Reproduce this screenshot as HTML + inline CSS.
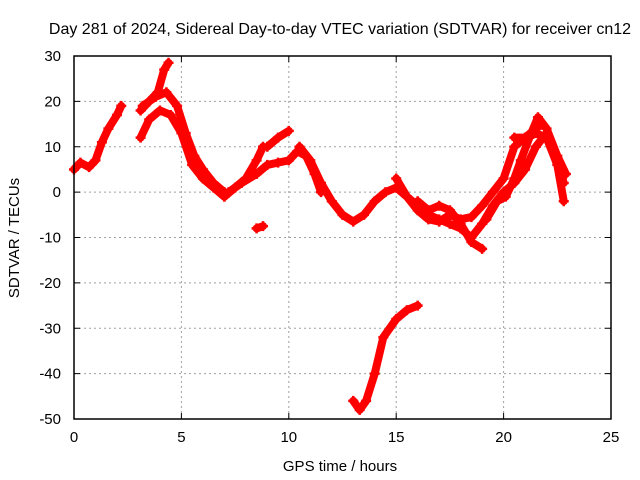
<!DOCTYPE html>
<html><head><meta charset="utf-8"><style>
body{margin:0;background:#fff}
svg{display:block;font-family:"Liberation Sans",sans-serif}
</style></head><body>
<svg id="chart" width="640" height="480">
<text x="340" y="34" font-size="16" text-anchor="middle" fill="#000">Day 281 of 2024, Sidereal Day-to-day VTEC variation (SDTVAR) for receiver cn12</text>
<text x="340" y="471" font-size="15" text-anchor="middle">GPS time / hours</text>
<text transform="translate(19,238) rotate(-90)" font-size="15" text-anchor="middle">SDTVAR / TECUs</text>
<g id="grid"></g><g id="ticks"></g><g id="marks"></g>
<rect x="74" y="56" width="537" height="363" fill="none" stroke="#000" stroke-width="1.5"/>
</svg>
<script>
const xTicks=[0,5,10,15,20,25];
const yTicks=[30,20,10,0,-10,-20,-30,-40,-50];
const trackA=[[0,5],[0.3,6.5],[0.7,5.5],[1,7],[1.3,11],[1.6,14],[2,17],[2.2,19]];
const trackB=[[3.1,18],[3.5,20],[3.9,22],[4.2,27],[4.4,28.5]];
const trackC=[[3.1,12],[3.5,16],[4,18],[4.5,17],[5,13],[5.5,6],[6,3],[6.5,1],[7,-1]];
const trackD=[[3.2,19],[3.8,21],[4.3,22],[4.8,19],[5.2,13],[5.6,8],[6,5],[6.5,2],[7,0]];
const trackE=[[7,-1],[7.5,1],[8,3],[8.5,7],[8.8,10]];
const trackF=[[7.2,0],[7.8,2],[8.5,4],[9,6],[9.5,6.5],[10,7],[10.4,9],[10.8,8],[11.2,4],[11.5,0]];
const trackG=[[9,10],[9.5,12],[10,13.5]];
const trackH=[[10.5,10],[11,7],[11.5,2],[12,-2],[12.5,-5],[13,-6.5],[13.5,-5],[14,-2],[14.5,0],[15,1],[15.5,-1],[16,-3],[16.5,-5],[17,-6],[17.5,-7],[18,-8],[18.5,-10],[19,-7],[19.5,-3],[20,0],[20.5,2],[21,5],[21.5,10],[22,13],[22.5,7],[22.8,2]];
const trackI=[[15,3],[15.5,-1],[16,-4],[16.5,-6],[17,-6.5],[17.5,-5],[18,-6],[18.5,-5.5],[19,-3],[19.5,0],[20,3],[20.5,10],[21,12],[21.5,13],[22,12],[22.5,6],[22.8,-2]];
const trackJ=[[16,-2],[16.5,-4],[17,-3],[17.5,-4],[18,-7],[18.5,-11],[19,-12.5]];
const trackK=[[19.2,-6],[19.7,-2],[20.1,-1],[20.5,3],[20.8,7],[21.2,12],[21.6,16.5],[22,14],[22.5,8],[22.9,4]];
const trackL=[[13,-46],[13.3,-48],[13.6,-46],[14,-40],[14.4,-32],[15,-28],[15.5,-26],[16,-25]];
const trackM=[[8.5,-8],[8.8,-7.5]];
const trackN=[[20.5,12],[21,12],[21.5,14],[21.8,15]];
const tracks=[trackA,trackB,trackC,trackD,trackE,trackF,trackG,trackH,trackI,trackJ,trackK,trackL,trackM,trackN];
const NS="http://www.w3.org/2000/svg";
const X0=74,X1=611,Y0=419,Y1=56;
const xs=v=>X0+(v-0)/25*(X1-X0);
const ys=v=>Y0-(v+50)/80*(Y0-Y1);
function mk(t,a,p){const e=document.createElementNS(NS,t);for(const k in a)e.setAttribute(k,a[k]);p.appendChild(e);return e;}
const grid=document.getElementById('grid'),ticks=document.getElementById('ticks'),marks=document.getElementById('marks');
xTicks.forEach(v=>{const x=xs(v);
 if(v>0&&v<25){const g=mk('line',{x1:x,x2:x,y1:Y1,y2:Y0,stroke:'#a0a0a0','stroke-dasharray':'2,3'},grid);
 
 }
 mk('line',{x1:x,x2:x,y1:Y0,y2:Y0-6,stroke:'#000'},ticks);mk('line',{x1:x,x2:x,y1:Y1,y2:Y1+6,stroke:'#000'},ticks);
 const t=mk('text',{x:x,y:Y0+23,'font-size':15,'text-anchor':'middle'},ticks);t.textContent=v;
 
 });
yTicks.forEach(v=>{const y=ys(v);
 if(v>-50&&v<30){const g=mk('line',{x1:X0,x2:X1,y1:y,y2:y,stroke:'#a0a0a0','stroke-dasharray':'2,3'},grid);
 
 }
 mk('line',{x1:X0,x2:X0+6,y1:y,y2:y,stroke:'#000'},ticks);mk('line',{x1:X1,x2:X1-6,y1:y,y2:y,stroke:'#000'},ticks);
 const t=mk('text',{x:X0-13,y:y+5,'font-size':15,'text-anchor':'end'},ticks);t.textContent=v;
 
 });
tracks.forEach(tr=>{
 const pl=mk('polyline',{points:tr.map(p=>xs(p[0])+','+ys(p[1])).join(' '),fill:'none',stroke:'#ff0000','stroke-width':8,'stroke-linejoin':'round','stroke-linecap':'round'},marks);
 
 
 tr.forEach(p=>{const x=xs(p[0]),y=ys(p[1]);
  const m=mk('path',{d:`M${x-5},${y}H${x+5}M${x},${y-5}V${y+5}`,stroke:'#ff0000','stroke-width':2.5},marks);
  
  });
});
</script>
</body></html>
